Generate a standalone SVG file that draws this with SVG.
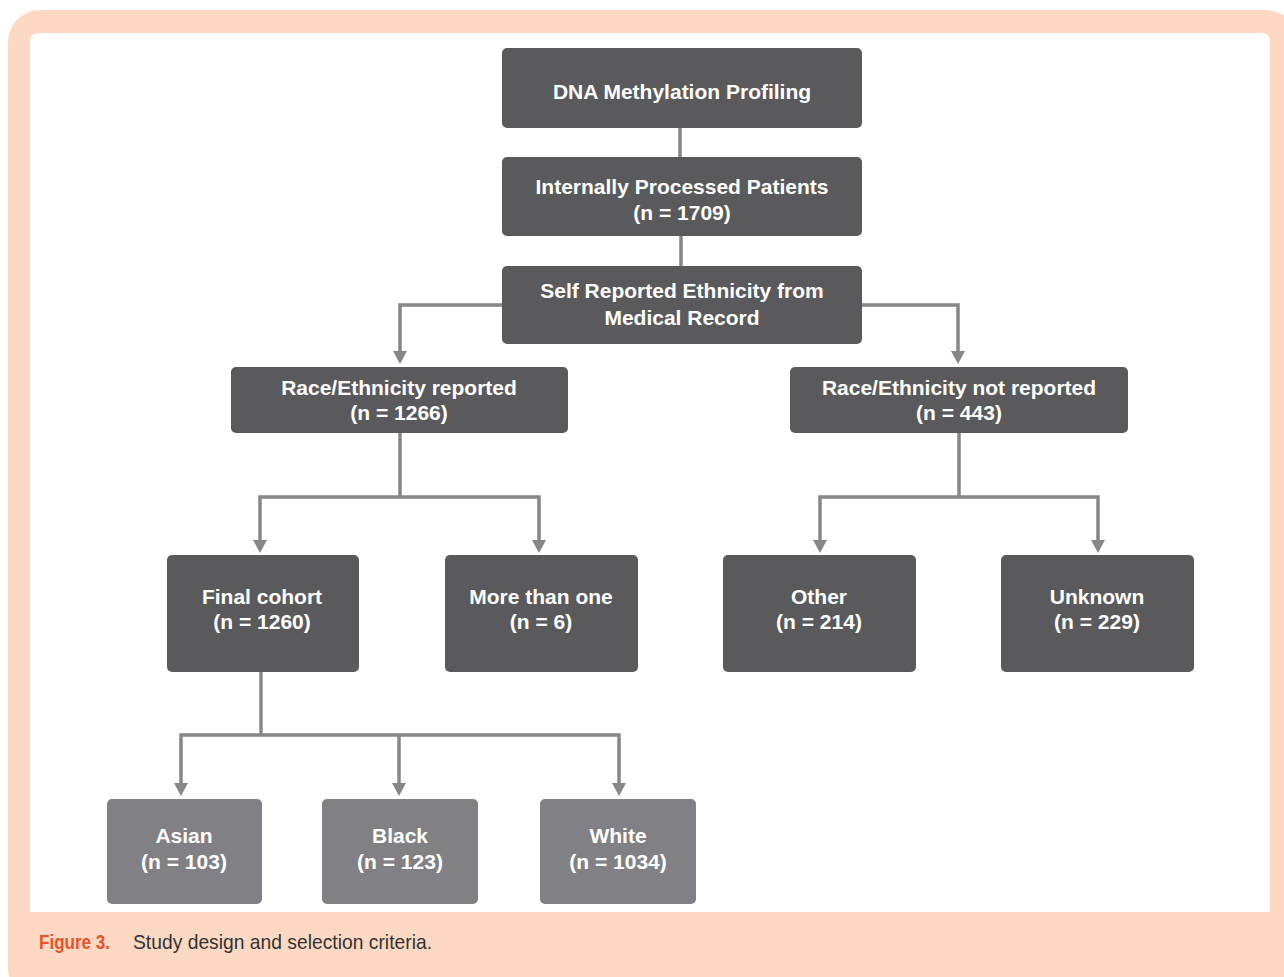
<svg xmlns="http://www.w3.org/2000/svg" width="1284" height="977" viewBox="0 0 1284 977">
<style>
.nd{fill:#5a5a5c}
.nl{fill:#818185}
.t{font-family:"Liberation Sans",Arial,sans-serif;font-weight:bold;font-size:21px;fill:#ffffff;text-anchor:middle}
.c{fill:none;stroke:#87878a;stroke-width:3.5}
.ah{fill:#87878a}
</style>
<rect width="1284" height="977" fill="#ffffff"/>
<rect x="8" y="10" width="1290" height="990" rx="32" fill="#fdd9c3"/>
<path d="M38,33 H1262 A8,8 0 0 1 1270,41 V912 H30 V41 A8,8 0 0 1 38,33 Z" fill="#ffffff"/>

<g id="connectors">
<line class="c" x1="680" y1="128" x2="680" y2="157"/>
<line class="c" x1="681" y1="236" x2="681" y2="266"/>
<path class="c" d="M502,305 H400 V352"/>
<path class="ah" d="M393,351 L407,351 L400,364 Z"/>
<path class="c" d="M862,305 H958 V352"/>
<path class="ah" d="M951,351 L965,351 L958,364 Z"/>
<path class="c" d="M400,433 V497"/>
<path class="c" d="M260,541 V497 H539 V541"/>
<path class="ah" d="M253,540 L267,540 L260,553 Z"/>
<path class="ah" d="M532,540 L546,540 L539,553 Z"/>
<path class="c" d="M959,433 V497"/>
<path class="c" d="M820,541 V497 H1098 V541"/>
<path class="ah" d="M813,540 L827,540 L820,553 Z"/>
<path class="ah" d="M1091,540 L1105,540 L1098,553 Z"/>
<path class="c" d="M261,672 V735"/>
<path class="c" d="M181,784 V735 H619 V784"/>
<line class="c" x1="399" y1="735" x2="399" y2="784"/>
<path class="ah" d="M174,783 L188,783 L181,796 Z"/>
<path class="ah" d="M392,783 L406,783 L399,796 Z"/>
<path class="ah" d="M612,783 L626,783 L619,796 Z"/>
</g>

<g id="n1"><rect class="nd" x="502" y="48" width="360" height="80" rx="5"/><text class="t" x="682" y="99">DNA Methylation Profiling</text></g>
<g id="n2"><rect class="nd" x="502" y="157" width="360" height="79" rx="5"/><text class="t" x="682" y="194">Internally Processed Patients</text><text class="t" x="682" y="220">(n = 1709)</text></g>
<g id="n3"><rect class="nd" x="502" y="266" width="360" height="78" rx="5"/><text class="t" x="682" y="298">Self Reported Ethnicity from</text><text class="t" x="682" y="325">Medical Record</text></g>
<g id="n4"><rect class="nd" x="231" y="367" width="337" height="66" rx="5"/><text class="t" x="399" y="395">Race/Ethnicity reported</text><text class="t" x="399" y="420">(n = 1266)</text></g>
<g id="n5"><rect class="nd" x="790" y="367" width="338" height="66" rx="5"/><text class="t" x="959" y="395">Race/Ethnicity not reported</text><text class="t" x="959" y="420">(n = 443)</text></g>
<g id="n6"><rect class="nd" x="167" y="555" width="192" height="117" rx="5"/><text class="t" x="262" y="604">Final cohort</text><text class="t" x="262" y="629">(n = 1260)</text></g>
<g id="n7"><rect class="nd" x="445" y="555" width="193" height="117" rx="5"/><text class="t" x="541" y="604">More than one</text><text class="t" x="541" y="629">(n = 6)</text></g>
<g id="n8"><rect class="nd" x="723" y="555" width="193" height="117" rx="5"/><text class="t" x="819" y="604">Other</text><text class="t" x="819" y="629">(n = 214)</text></g>
<g id="n9"><rect class="nd" x="1001" y="555" width="193" height="117" rx="5"/><text class="t" x="1097" y="604">Unknown</text><text class="t" x="1097" y="629">(n = 229)</text></g>
<g id="n10"><rect class="nl" x="107" y="799" width="155" height="105" rx="5"/><text class="t" x="184" y="843">Asian</text><text class="t" x="184" y="869">(n = 103)</text></g>
<g id="n11"><rect class="nl" x="322" y="799" width="156" height="105" rx="5"/><text class="t" x="400" y="843">Black</text><text class="t" x="400" y="869">(n = 123)</text></g>
<g id="n12"><rect class="nl" x="540" y="799" width="156" height="105" rx="5"/><text class="t" x="618" y="843">White</text><text class="t" x="618" y="869">(n = 1034)</text></g>

<g id="caption">
<text x="39" y="949" font-family="'Liberation Sans',Arial,sans-serif" font-weight="bold" font-size="21" fill="#e8532b" textLength="71" lengthAdjust="spacingAndGlyphs">Figure 3.</text>
<text x="133" y="949" font-family="'Liberation Sans',Arial,sans-serif" font-size="21" fill="#333333" textLength="299" lengthAdjust="spacingAndGlyphs">Study design and selection criteria.</text>
</g>
</svg>
